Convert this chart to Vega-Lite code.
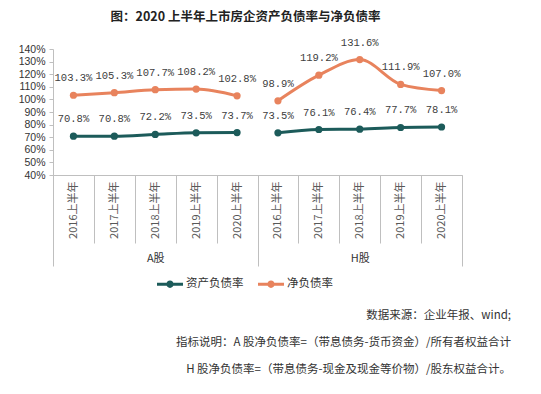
{
  "$schema": "https://vega.github.io/schema/vega-lite/v6.json",
  "padding": {"left": 18, "top": 11, "right": 5, "bottom": 5},
  "background": "white",
  "title": {
    "text": "图：2020 上半年上市房企资产负债率与净负债率",
    "anchor": "middle",
    "frame": "group",
    "dx": -12,
    "offset": 14,
    "font": "Noto Sans CJK SC",
    "fontSize": 12.5,
    "fontWeight": "bold",
    "color": "#222222"
  },
  "config": {
    "view": {"stroke": null},
    "axis": {"domainColor": "#bfbfbf", "tickColor": "#bfbfbf", "grid": false}
  },
  "vconcat": [
    {
      "width": 409,
      "height": 126,
      "title": {
        "text": [
          "数据来源：企业年报、wind;",
          "指标说明：A 股净负债率=（带息债务-货币资金）/所有者权益合计",
          "H 股净负债率=（带息债务-现金及现金等价物）/股东权益合计。"
        ],
        "orient": "bottom",
        "anchor": "end",
        "frame": "group",
        "dx": 49,
        "offset": 43,
        "lineHeight": 27,
        "font": "Noto Sans CJK SC",
        "fontSize": 11.5,
        "fontWeight": "normal",
        "color": "#333333"
      },
      "data": {
        "values": [
          {"cat": "A|2016上半年", "grp": "A股", "series": "资产负债率", "val": 0.708},
          {"cat": "A|2017上半年", "grp": "A股", "series": "资产负债率", "val": 0.708},
          {"cat": "A|2018上半年", "grp": "A股", "series": "资产负债率", "val": 0.722},
          {"cat": "A|2019上半年", "grp": "A股", "series": "资产负债率", "val": 0.735},
          {"cat": "A|2020上半年", "grp": "A股", "series": "资产负债率", "val": 0.737},
          {"cat": "H|2016上半年", "grp": "H股", "series": "资产负债率", "val": 0.735},
          {"cat": "H|2017上半年", "grp": "H股", "series": "资产负债率", "val": 0.761},
          {"cat": "H|2018上半年", "grp": "H股", "series": "资产负债率", "val": 0.764},
          {"cat": "H|2019上半年", "grp": "H股", "series": "资产负债率", "val": 0.777},
          {"cat": "H|2020上半年", "grp": "H股", "series": "资产负债率", "val": 0.781},
          {"cat": "A|2016上半年", "grp": "A股", "series": "净负债率", "val": 1.033},
          {"cat": "A|2017上半年", "grp": "A股", "series": "净负债率", "val": 1.053},
          {"cat": "A|2018上半年", "grp": "A股", "series": "净负债率", "val": 1.077},
          {"cat": "A|2019上半年", "grp": "A股", "series": "净负债率", "val": 1.082},
          {"cat": "A|2020上半年", "grp": "A股", "series": "净负债率", "val": 1.028},
          {"cat": "H|2016上半年", "grp": "H股", "series": "净负债率", "val": 0.989},
          {"cat": "H|2017上半年", "grp": "H股", "series": "净负债率", "val": 1.192},
          {"cat": "H|2018上半年", "grp": "H股", "series": "净负债率", "val": 1.316},
          {"cat": "H|2019上半年", "grp": "H股", "series": "净负债率", "val": 1.119},
          {"cat": "H|2020上半年", "grp": "H股", "series": "净负债率", "val": 1.070}
        ]
      },
      "encoding": {
        "y": {
          "field": "val", "type": "quantitative",
          "scale": {"domain": [0.4, 1.4], "nice": false, "zero": false},
          "axis": {
            "title": null,
            "format": ".0%",
            "values": [0.4, 0.5, 0.6, 0.7, 0.8, 0.9, 1.0, 1.1, 1.2, 1.3, 1.4],
            "labelOverlap": false,
            "labelBound": false,
            "tickSize": 4,
            "labelPadding": 4,
            "labelFont": "Liberation Sans",
            "labelFontSize": 10.5,
            "labelColor": "#333333"
          }
        }
      },
      "layer": [
        {
          "layer": [
            {
              "mark": {"type": "line", "strokeWidth": 3, "interpolate": "monotone", "point": {"filled": true, "size": 52}},
              "encoding": {
                "x": {
                  "field": "cat", "type": "nominal", "sort": null, "bandPosition": 0.5,
                  "scale": {"type": "band", "paddingInner": 0, "paddingOuter": 0},
                  "axis": {
                    "title": null,
                    "labelExpr": "split(datum.value, '|')[1]",
                    "labelAngle": -90,
                    "labelAlign": "right",
                    "labelBaseline": "middle",
                    "tickBand": "extent",
                    "tickSize": 68,
                    "labelPadding": -62,
                    "labelFont": "Noto Sans CJK SC",
                    "labelFontSize": 11,
                    "labelColor": "#595959",
                    "domainColor": "#bfbfbf"
                  }
                },
                "color": {
                  "field": "series", "type": "nominal",
                  "scale": {"domain": ["资产负债率", "净负债率"], "range": ["#1c5b5a", "#e8835d"]},
                  "legend": {
                    "title": null,
                    "orient": "none",
                    "direction": "horizontal",
                    "legendX": 104,
                    "legendY": 222,
                    "padding": 0,
                    "symbolType": "M-1,-0.115L1,-0.115L1,0.115L-1,0.115Z M0.28,0A0.28,0.28,0,1,1,-0.28,0A0.28,0.28,0,1,1,0.28,0Z",
                    "symbolSize": 676,
                    "symbolStrokeWidth": 0,
                    "labelFont": "Noto Sans CJK SC",
                    "labelFontSize": 11.5,
                    "labelColor": "#333333",
                    "labelOffset": 3,
                    "columnPadding": 14,
                    "encode": {"symbols": {"update": {"fill": {"scale": "color", "field": "value"}, "opacity": {"value": 1}}}}
                  }
                },
                "detail": {"field": "grp"}
              }
            },
            {
              "mark": {"type": "text", "dy": -17, "font": "Liberation Mono", "fontSize": 10.5, "color": "#404040"},
              "encoding": {
                "x": {"field": "cat", "type": "nominal", "sort": null, "bandPosition": 0.5},
                "text": {"field": "val", "type": "quantitative", "format": ".1%"}
              }
            }
          ]
        },
        {
          "mark": {"type": "text", "opacity": 0},
          "encoding": {
            "x": {
              "field": "grp", "type": "nominal",
              "scale": {"type": "band", "paddingInner": 0, "paddingOuter": 0},
              "axis": {
                "title": null,
                "orient": "bottom",
                "labelAngle": 0,
                "tickBand": "extent",
                "tickSize": 91,
                "labelPadding": -14,
                "domain": false,
                "labelFont": "Noto Sans CJK SC",
                "labelFontSize": 11,
                "labelColor": "#333333"
              }
            },
            "text": {"value": ""}
          }
        }
      ],
      "resolve": {"scale": {"x": "independent"}}
    }
  ]
}
